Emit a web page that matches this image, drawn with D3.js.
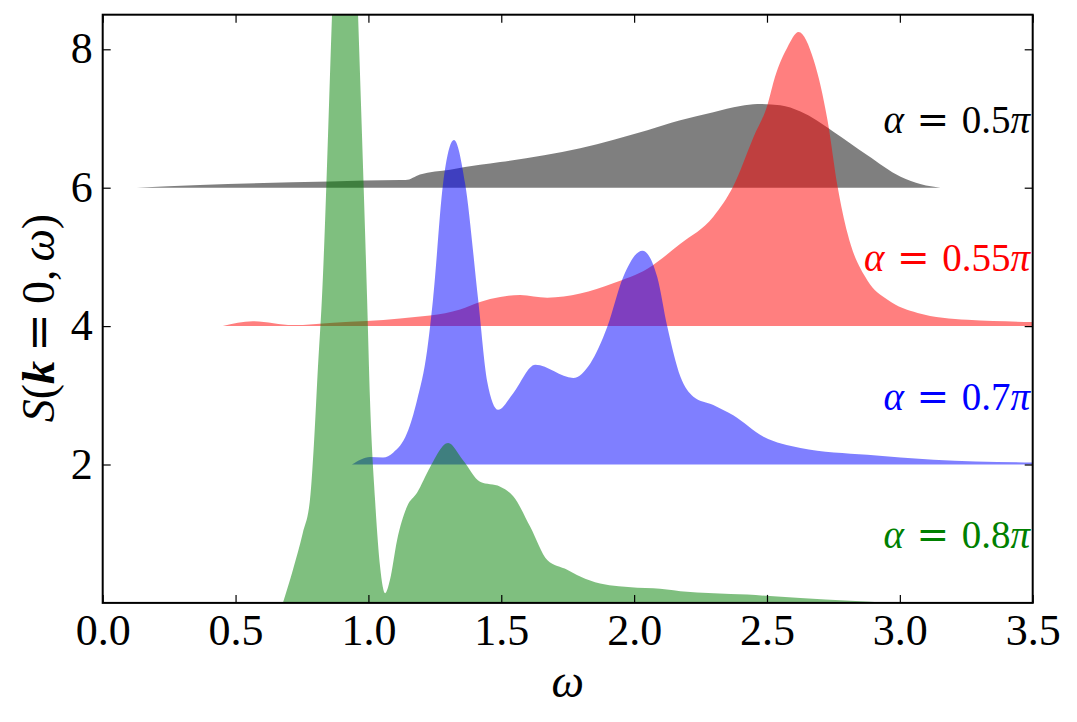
<!DOCTYPE html>
<html>
<head>
<meta charset="utf-8">
<script src="https://cdn.jsdelivr.net/npm/d3@7"></script>
<style>
  html, body { margin: 0; padding: 0; background: #fff; }
  svg { display: block; }
</style>
</head>
<body>
<svg id="chart" width="1077" height="722"></svg>
<script>
// ---- data ----
const omegaA05 = [0.128, 0.365, 0.855, 1.119, 1.14, 1.194, 1.307, 1.42, 1.496, 1.797, 2.05, 2.17, 2.298, 2.4, 2.464, 2.55, 2.626, 2.75, 2.878, 3.003, 3.08, 3.153];
const sA05     = [0, 0.04, 0.09, 0.11, 0.11, 0.19, 0.26, 0.33, 0.37, 0.57, 0.83, 0.97, 1.09, 1.18, 1.21, 1.19, 1.1, 0.81, 0.47, 0.16, 0.05, 0];

const omegaA055 = [0.452, 0.565, 0.716, 0.867, 1.119, 1.345, 1.42, 1.496, 1.571, 1.673, 1.797, 1.921, 2.05, 2.174, 2.298, 2.373, 2.449, 2.502, 2.53, 2.577, 2.619, 2.676, 2.728, 2.766, 2.803, 2.878, 2.954, 3.067, 3.255, 3.5];
const sA055     = [0, 0.07, 0.015, 0.05, 0.11, 0.24, 0.35, 0.42, 0.45, 0.41, 0.47, 0.62, 0.83, 1.19, 1.58, 2.02, 2.73, 3.2, 3.6, 4.03, 4.25, 3.84, 2.97, 2.01, 1.34, 0.66, 0.38, 0.19, 0.09, 0.06];

const omegaA07 = [0.938, 1.006, 1.055, 1.093, 1.145, 1.183, 1.221, 1.243, 1.281, 1.322, 1.364, 1.413, 1.447, 1.488, 1.545, 1.628, 1.771, 1.835, 1.899, 1.959, 2.031, 2.087, 2.125, 2.174, 2.223, 2.298, 2.373, 2.487, 2.626, 2.878, 3.127, 3.5];
const sA07     = [0, 0.11, 0.1, 0.17, 0.45, 0.93, 1.65, 2.38, 4.06, 4.69, 4.06, 2.38, 1.2, 0.79, 1.03, 1.44, 1.25, 1.46, 1.99, 2.71, 3.09, 2.71, 1.99, 1.27, 0.98, 0.86, 0.71, 0.4, 0.24, 0.14, 0.07, 0.03];

const omegaA08 = [0.678, 0.716, 0.753, 0.78, 0.795, 0.81, 0.825, 0.863, 0.912, 0.961, 0.995, 1.006, 1.025, 1.044, 1.063, 1.081, 1.108, 1.145, 1.183, 1.232, 1.3, 1.356, 1.42, 1.496, 1.545, 1.609, 1.673, 1.748, 1.797, 1.872, 2.012, 2.072, 2.174, 2.426, 2.626, 2.814, 2.965];
const sA08     = [0, 0.48, 1.01, 1.49, 2.3, 3.4, 4.4, 8.5, 14, 8.5, 4.4, 2.93, 1.49, 0.52, 0.14, 0.33, 0.91, 1.39, 1.59, 1.96, 2.31, 2.06, 1.75, 1.68, 1.54, 1.1, 0.62, 0.48, 0.38, 0.28, 0.22, 0.21, 0.17, 0.12, 0.07, 0.03, 0];

const seriesOmega  = [omegaA05, omegaA055, omegaA07, omegaA08];
const seriesS      = [sA05, sA055, sA07, sA08];
const offsets      = [6, 4, 2, 0];
const colors       = ["#000000", "#ff0000", "#0000ff", "#008000"];
const alphaValues  = ["0.5", "0.55", "0.7", "0.8"];

const xTicks = [0, 0.5, 1.0, 1.5, 2.0, 2.5, 3.0, 3.5];
const yTicks = [2, 4, 6, 8];

// ---- layout ----
const M = {left: 102.7, right: 1032.7, top: 14.7, bottom: 602.9};
const FONT = "'Liberation Serif', 'DejaVu Serif', serif";
const EQFONT = "'DejaVu Serif', serif";

const svg = d3.select("#chart");
const x = d3.scaleLinear().domain([0, 3.5]).range([M.left, M.right]);
const y = d3.scaleLinear().domain([0, 8.5]).range([M.bottom, M.top]);

svg.append("defs").append("clipPath").attr("id", "plotclip")
  .append("rect").attr("x", M.left).attr("y", M.top)
  .attr("width", M.right - M.left).attr("height", M.bottom - M.top);

const gPlot = svg.append("g").attr("clip-path", "url(#plotclip)");

seriesOmega.forEach((om, i) => {
  const pts = om.map((w, j) => ({w: w, s: seriesS[i][j]}));
  const area = d3.area()
    .x(d => x(d.w))
    .y0(y(offsets[i]))
    .y1(d => y(offsets[i] + d.s))
    .curve(d3.curveMonotoneX);
  gPlot.append("path").datum(pts)
    .attr("d", area)
    .attr("fill", colors[i])
    .attr("fill-opacity", 0.5)
    .attr("stroke", "none");
});

// ---- axes (ticks inward on all four sides) ----
const tickLen = 8;
const axB = d3.axisBottom(x).tickValues(xTicks).tickSizeInner(-tickLen).tickSizeOuter(0).tickPadding(14).tickFormat(d3.format(".1f"));
const axT = d3.axisTop(x).tickValues(xTicks).tickSizeInner(-tickLen).tickSizeOuter(0).tickFormat("");
const axL = d3.axisLeft(y).tickValues(yTicks).tickSizeInner(-tickLen).tickSizeOuter(0).tickPadding(12).tickFormat(d3.format("d"));
const axR = d3.axisRight(y).tickValues(yTicks).tickSizeInner(-tickLen).tickSizeOuter(0).tickFormat("");

function styleAxis(g) {
  g.select(".domain").remove();
  g.selectAll(".tick line").attr("stroke", "#000").attr("stroke-width", 1.2);
  g.selectAll(".tick text").attr("fill", "#000").style("font-family", FONT).style("font-size", "44px");
}
svg.append("g").attr("transform", `translate(0,${M.bottom})`).call(axB).call(styleAxis)
  .selectAll(".tick text").attr("dy", "0").attr("y", 42);
svg.append("g").attr("transform", `translate(0,${M.top})`).call(axT).call(styleAxis);
svg.append("g").attr("transform", `translate(${M.left},0)`).call(axL).call(styleAxis)
  .selectAll(".tick text").attr("dy", "0").attr("y", 13.5).attr("x", -10);
svg.append("g").attr("transform", `translate(${M.right},0)`).call(axR).call(styleAxis);

// frame
svg.append("rect").attr("x", M.left).attr("y", M.top)
  .attr("width", M.right - M.left).attr("height", M.bottom - M.top)
  .attr("fill", "none").attr("stroke", "#000").attr("stroke-width", 2);

// ---- series labels ----
alphaValues.forEach((a, i) => {
  const t = svg.append("text")
    .attr("x", x(3.49)).attr("y", y(offsets[i] + 0.79))
    .attr("text-anchor", "end")
    .attr("fill", colors[i])
    .style("font-family", FONT).style("font-size", "39px");
  t.append("tspan").style("font-style", "italic").text("α");
  t.append("tspan").attr("dx", "0.32em").style("font-family", EQFONT).style("font-weight", "200").text("=");
  t.append("tspan").attr("dx", "0.32em").text(a);
  t.append("tspan").style("font-style", "italic").text("π");
});

// ---- axis titles ----
svg.append("text")
  .attr("x", (M.left + M.right) / 2).attr("y", 697)
  .attr("text-anchor", "middle")
  .style("font-family", FONT).style("font-size", "46px").style("font-style", "italic")
  .text("ω");

const yl = svg.append("text")
  .attr("transform", `translate(54,318) rotate(-90)`)
  .attr("text-anchor", "middle")
  .style("font-family", FONT).style("font-size", "46px");
yl.append("tspan").style("font-style", "italic").text("S");
yl.append("tspan").text("(");
yl.append("tspan").style("font-style", "italic").style("font-weight", "bold").text("k");
yl.append("tspan").attr("dx", "0.2em").style("font-family", EQFONT).text("=");
yl.append("tspan").attr("dx", "0.2em").text("0,");
yl.append("tspan").attr("dx", "0.17em").style("font-style", "italic").text("ω");
yl.append("tspan").text(")");
</script>
</body>
</html>
